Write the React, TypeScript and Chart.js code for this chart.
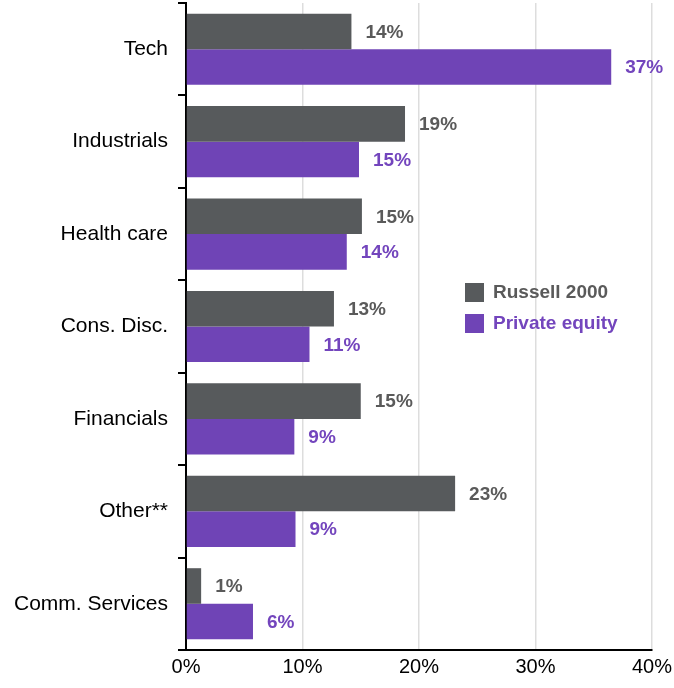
import React, { useEffect, useRef } from "react";
import { Chart, registerables } from "chart.js";

Chart.register(...registerables);

const categories = ["Tech", "Industrials", "Health care", "Cons. Disc.", "Financials", "Other**", "Comm. Services"];
const russell2000 = [14.2, 18.8, 15.1, 12.7, 15.0, 23.1, 1.3];
const privateEquity = [36.5, 14.85, 13.8, 10.6, 9.3, 9.4, 5.75];
const russellLabels = ["14%", "19%", "15%", "13%", "15%", "23%", "1%"];
const privateLabels = ["37%", "15%", "14%", "11%", "9%", "9%", "6%"];
const xTicks = [0, 10, 20, 30, 40];
const seriesNames = ["Russell 2000", "Private equity"];

const DARK = "#575a5c";
const DARK_TEXT = "#5a5a5a";
const PURPLE = "#6f44b6";
const PURPLE_TEXT = "#7345bd";
const FONT = "'Liberation Sans', Arial, sans-serif";

const labelPlugin = {
  id: "valueLabels",
  afterDatasetsDraw(chart: any) {
    const ctx = chart.ctx;
    const labelSets = [russellLabels, privateLabels];
    const colors = [DARK_TEXT, PURPLE_TEXT];
    ctx.save();
    ctx.font = `bold 19px ${FONT}`;
    ctx.textBaseline = "middle";
    ctx.textAlign = "left";
    chart.data.datasets.forEach((_: any, di: number) => {
      const meta = chart.getDatasetMeta(di);
      meta.data.forEach((bar: any, i: number) => {
        ctx.fillStyle = colors[di];
        ctx.fillText(labelSets[di][i], bar.x + 14, bar.y + 1);
      });
    });
    // legend
    const lx = 465;
    const ly = [283, 314];
    seriesNames.forEach((name, i) => {
      ctx.fillStyle = i === 0 ? DARK : PURPLE;
      ctx.fillRect(lx, ly[i], 19, 19);
      ctx.fillStyle = i === 0 ? DARK_TEXT : PURPLE_TEXT;
      ctx.fillText(name, lx + 28, ly[i] + 10);
    });
    ctx.restore();
  },
};

export default function App() {
  const ref = useRef<HTMLCanvasElement>(null);
  useEffect(() => {
    if (!ref.current) return;
    const chart = new Chart(ref.current, {
      type: "bar",
      data: {
        labels: categories,
        datasets: [
          {
            label: seriesNames[0],
            data: russell2000,
            backgroundColor: DARK,
            categoryPercentage: 0.77,
            barPercentage: 1,
          },
          {
            label: seriesNames[1],
            data: privateEquity,
            backgroundColor: PURPLE,
            categoryPercentage: 0.77,
            barPercentage: 1,
          },
        ],
      },
      options: {
        indexAxis: "y",
        animation: false,
        responsive: false,
        maintainAspectRatio: false,
        layout: { padding: { top: 3, right: 22, left: 0, bottom: 0 } },
        plugins: {
          legend: { display: false },
          tooltip: { enabled: false },
        },
        scales: {
          x: {
            min: 0,
            max: 40,
            afterBuildTicks(scale: any) {
              scale.ticks = xTicks.map((v) => ({ value: v }));
            },
            afterFit(scale: any) {
              scale.height = 38;
              scale.paddingLeft = 0;
              scale.paddingRight = 0;
            },
            ticks: {
              callback: (v: any) => `${v}%`,
              color: "#000",
              font: { family: FONT, size: 20 },
              padding: 5,
              maxRotation: 0,
            },
            grid: { color: "#dddddd", lineWidth: 1.5, drawTicks: false },
            border: { color: "#000", width: 2 },
          },
          y: {
            afterFit(scale: any) {
              scale.width = 186;
              scale.paddingTop = 0;
              scale.paddingBottom = 0;
            },
            ticks: {
              color: "#000",
              font: { family: FONT, size: 21 },
              padding: 10,
            },
            grid: {
              offset: true,
              drawOnChartArea: false,
              color: "#000",
              lineWidth: 2,
              tickLength: 8,
            },
            border: { color: "#000", width: 2 },
          },
        },
      },
      plugins: [labelPlugin],
    } as any);
    return () => chart.destroy();
  }, []);
  return (
    <div style={{ position: "fixed", left: 0, top: 0, width: 674, height: 688, background: "#fff" }}>
      <canvas ref={ref} width={674} height={688} style={{ display: "block" }} />
    </div>
  );
}
